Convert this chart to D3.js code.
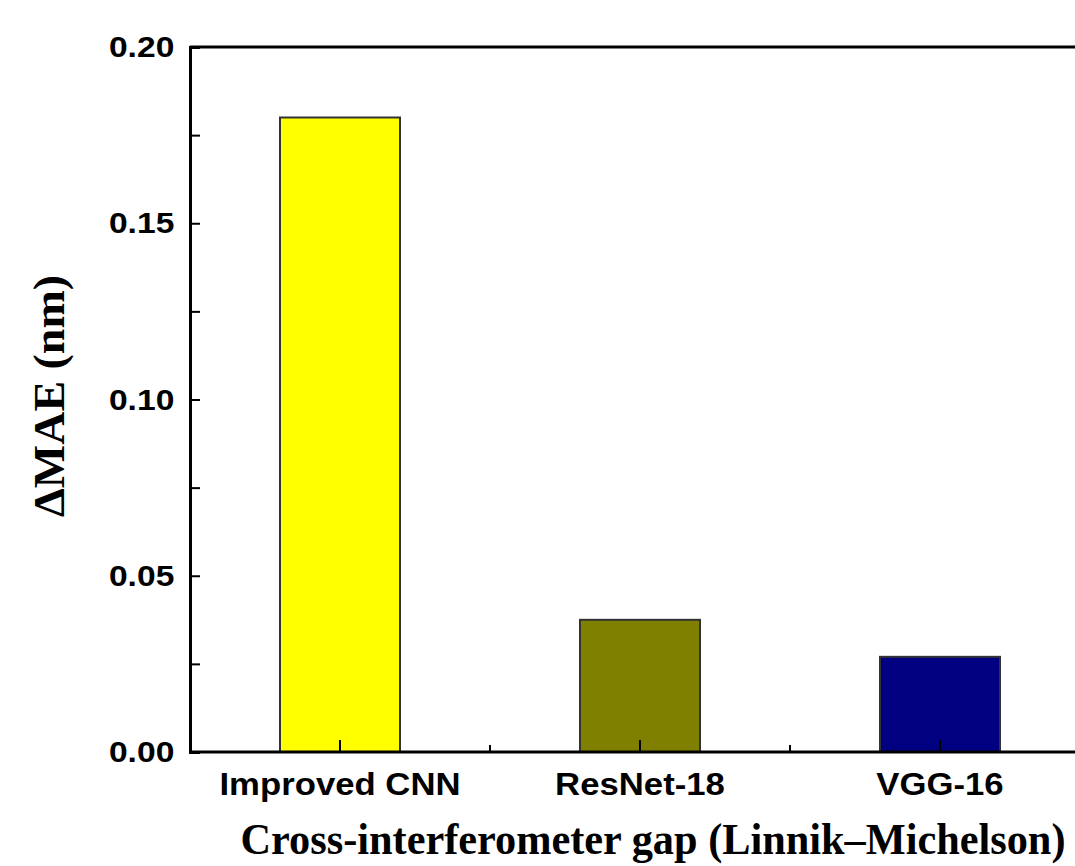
<!DOCTYPE html>
<html>
<head>
<meta charset="utf-8">
<script src="https://cdn.jsdelivr.net/npm/d3@7"></script>
<style>
  body { margin: 0; background: #fff; overflow: hidden; }
  svg { display: block; }
</style>
</head>
<body>
<div id="chart"></div>
<script>
// data
const categories = ["Improved CNN", "ResNet-18", "VGG-16"];
const values = [0.18, 0.0375, 0.027];
const colors = ["#ffff00", "#808000", "#000080"];
const yTicks = [0, 0.05, 0.10, 0.15, 0.20];
const yMinorTicks = [0.025, 0.075, 0.125, 0.175];

const width = 1075, height = 866;
const plotLeft = 190, plotTop = 47, plotBottom = 752, plotRight = 1090;

const svg = d3.select("#chart").append("svg")
    .attr("width", width)
    .attr("height", height);

const x = d3.scaleBand()
    .domain(categories)
    .range([plotLeft, plotRight])
    .paddingInner(0.6)
    .paddingOuter(0.3);

const y = d3.scaleLinear()
    .domain([0, 0.20])
    .range([plotBottom, plotTop]);

// bars
svg.selectAll("rect.bar")
    .data(categories)
    .enter()
    .append("rect")
    .attr("class", "bar")
    .attr("x", d => x(d))
    .attr("y", (d, i) => y(values[i]))
    .attr("width", x.bandwidth())
    .attr("height", (d, i) => y(0) - y(values[i]))
    .attr("fill", (d, i) => colors[i])
    .attr("stroke", "#333")
    .attr("stroke-width", 2);

// top frame line
svg.append("line").attr("x1", plotLeft).attr("x2", width + 5).attr("y1", plotTop).attr("y2", plotTop)
    .attr("stroke", "#000").attr("stroke-width", 3);

// y axis, ticks inward
const yAxis = svg.append("g")
    .attr("transform", `translate(${plotLeft},0)`)
    .call(d3.axisLeft(y).tickValues(yTicks).tickSize(-10).tickPadding(14)
        .tickFormat(d3.format(".2f")));
yAxis.select(".domain").attr("stroke-width", 3);
yAxis.selectAll(".tick line").attr("stroke-width", 2);
yAxis.selectAll("text")
    .attr("font-family", "'Liberation Sans', Arial, sans-serif")
    .attr("font-weight", "bold")
    .attr("font-size", 30)
    .attr("transform", "scale(1.12,1)")
    .attr("fill", "#000");

svg.append("g")
    .attr("transform", `translate(${plotLeft},0)`)
    .call(d3.axisLeft(y).tickValues(yMinorTicks).tickSize(-10).tickFormat(""))
    .call(g => g.select(".domain").remove())
    .selectAll(".tick line").attr("stroke-width", 2);

// x axis, ticks inward
const xAxis = svg.append("g")
    .attr("transform", `translate(0,${plotBottom})`)
    .call(d3.axisBottom(x).tickSize(-12).tickPadding(21));
xAxis.select(".domain").attr("d", `M${plotLeft},0H${width + 5}`).attr("stroke-width", 3);
xAxis.selectAll(".tick line").attr("stroke-width", 2);
xAxis.selectAll("text")
    .attr("font-family", "'Liberation Sans', Arial, sans-serif")
    .attr("font-weight", "bold")
    .attr("font-size", 31)
    .attr("transform", "scale(1.12,1)")
    .attr("fill", "#000");

// minor x ticks between categories
const mids = categories.slice(0, -1).map((c, i) =>
    (x(c) + x(categories[i + 1])) / 2 + x.bandwidth() / 2);
svg.selectAll("line.xminor")
    .data(mids)
    .enter()
    .append("line")
    .attr("class", "xminor")
    .attr("x1", d => d).attr("x2", d => d)
    .attr("y1", plotBottom).attr("y2", plotBottom - 7)
    .attr("stroke", "#000").attr("stroke-width", 2);

// axis titles
svg.append("text")
    .attr("x", 653)
    .attr("y", 854)
    .attr("text-anchor", "middle")
    .attr("font-family", "'Liberation Serif', 'Times New Roman', serif")
    .attr("font-weight", "bold")
    .attr("font-size", 44)
    .attr("textLength", 825)
    .attr("lengthAdjust", "spacingAndGlyphs")
    .text("Cross-interferometer gap (Linnik–Michelson)");

svg.append("text")
    .attr("transform", "translate(64,396) rotate(-90)")
    .attr("text-anchor", "middle")
    .attr("font-family", "'Liberation Serif', 'Times New Roman', serif")
    .attr("font-weight", "bold")
    .attr("font-size", 45)
    .attr("textLength", 242)
    .attr("lengthAdjust", "spacingAndGlyphs")
    .text("ΔMAE (nm)");
</script>
</body>
</html>
